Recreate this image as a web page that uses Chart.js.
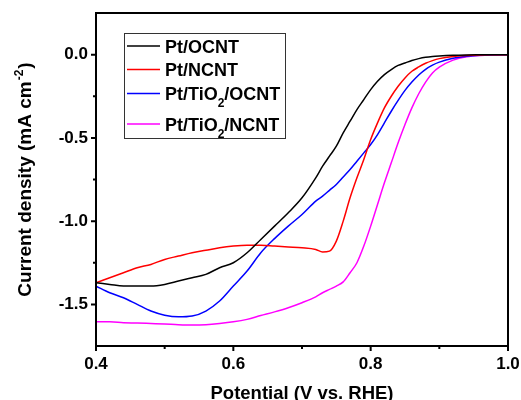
<!DOCTYPE html>
<html lang="en">
<head>
    <meta charset="UTF-8">
    <title>ORR polarization curves</title>
    <script src="https://cdn.jsdelivr.net/npm/chart.js"></script>
    <style>
        body {
            margin: 0;
            padding: 0;
            background: #fff;
        }

        .chart-box {
            width: 521px;
            height: 400px;
            position: relative;
        }
    </style>
</head>
<body>
    <div class="chart-box">
        <canvas id="lsv-chart"></canvas>
    </div>

    <script>
        // Potential (V vs. RHE), shared by all four sweeps
        const potential = [0.40, 0.42, 0.44, 0.46, 0.48, 0.50, 0.52, 0.54, 0.56, 0.58,
            0.60, 0.62, 0.64, 0.66, 0.68, 0.70, 0.72, 0.73, 0.74, 0.75,
            0.76, 0.77, 0.78, 0.79, 0.80, 0.81, 0.82, 0.83, 0.84, 0.85,
            0.86, 0.87, 0.88, 0.89, 0.90, 0.92, 0.94, 0.96, 0.98, 1.00];

        // Current density (mA cm-2)
        const ptOcnt = [-1.37, -1.38, -1.39, -1.39, -1.39, -1.38, -1.36, -1.34, -1.32, -1.28,
            -1.25, -1.19, -1.11, -1.03, -0.95, -0.86, -0.74, -0.67, -0.61, -0.55,
            -0.47, -0.40, -0.33, -0.27, -0.21, -0.16, -0.12, -0.09, -0.065, -0.05,
            -0.035, -0.024, -0.016, -0.011, -0.008, -0.004, -0.002, -0.001, 0, 0];

        const ptNcnt = [-1.37, -1.34, -1.31, -1.28, -1.26, -1.23, -1.21, -1.19, -1.175, -1.16,
            -1.15, -1.145, -1.145, -1.15, -1.155, -1.16, -1.17, -1.185, -1.18, -1.12,
            -1.00, -0.86, -0.74, -0.63, -0.51, -0.41, -0.32, -0.25, -0.19, -0.14,
            -0.10, -0.074, -0.052, -0.036, -0.024, -0.011, -0.005, -0.002, -0.001, 0];

        const ptTiOcnt = [-1.39, -1.43, -1.46, -1.50, -1.54, -1.565, -1.575, -1.57, -1.54, -1.48,
            -1.39, -1.30, -1.19, -1.105, -1.03, -0.96, -0.88, -0.85, -0.815, -0.78,
            -0.735, -0.69, -0.64, -0.59, -0.54, -0.48, -0.41, -0.34, -0.275, -0.215,
            -0.165, -0.122, -0.088, -0.063, -0.045, -0.022, -0.01, -0.004, -0.001, 0];

        const ptTiNcnt = [-1.605, -1.605, -1.61, -1.612, -1.615, -1.618, -1.622, -1.624, -1.622, -1.615,
            -1.605, -1.59, -1.567, -1.545, -1.52, -1.49, -1.455, -1.43, -1.41, -1.39,
            -1.365, -1.31, -1.25, -1.15, -1.03, -0.90, -0.77, -0.65, -0.53, -0.42,
            -0.32, -0.235, -0.165, -0.11, -0.075, -0.033, -0.013, -0.005, -0.002, 0];

        const seriesNames = ['Pt/OCNT', 'Pt/NCNT', 'Pt/TiO2/OCNT', 'Pt/TiO2/NCNT'];
        const seriesColors = ['#000000', '#ff0000', '#0000ff', '#ff00ff'];

        const xTicks = [0.4, 0.6, 0.8, 1.0];
        const xMinorTicks = [0.5, 0.7, 0.9];
        const yTicks = [0.0, -0.5, -1.0, -1.5];
        const yMinorTicks = [-0.25, -0.75, -1.25];

        const FONT = "'Liberation Sans', Arial, sans-serif";

        function toPoints(values) {
            return potential.map((v, i) => ({ x: v, y: values[i] }));
        }

        // Frame, tick marks, axis titles and the legend box
        const decorations = {
            id: 'decorations',
            afterDraw(chart) {
                const ctx = chart.ctx;
                const area = chart.chartArea;
                const xs = chart.scales.x;
                const ys = chart.scales.y;
                ctx.save();

                // frame
                ctx.strokeStyle = '#000';
                ctx.lineWidth = 2;
                ctx.strokeRect(area.left, area.top, area.right - area.left, area.bottom - area.top);

                // tick marks, outward
                ctx.beginPath();
                xTicks.forEach(v => { const p = xs.getPixelForValue(v); ctx.moveTo(p, area.bottom); ctx.lineTo(p, area.bottom + 5); });
                xMinorTicks.forEach(v => { const p = xs.getPixelForValue(v); ctx.moveTo(p, area.bottom); ctx.lineTo(p, area.bottom + 3); });
                yTicks.forEach(v => { const p = ys.getPixelForValue(v); ctx.moveTo(area.left, p); ctx.lineTo(area.left - 5, p); });
                yMinorTicks.forEach(v => { const p = ys.getPixelForValue(v); ctx.moveTo(area.left, p); ctx.lineTo(area.left - 3, p); });
                ctx.stroke();

                ctx.fillStyle = '#000';

                // x title
                ctx.font = 'bold 18.5px ' + FONT;
                ctx.textAlign = 'center';
                ctx.textBaseline = 'alphabetic';
                ctx.fillText('Potential (V vs. RHE)', (area.left + area.right) / 2, 399);

                // y title with superscript
                ctx.save();
                ctx.translate(31, (area.top + area.bottom) / 2 + 1);
                ctx.rotate(-Math.PI / 2);
                ctx.textAlign = 'left';
                const mainFont = 'bold 19px ' + FONT;
                const supFont = 'bold 12px ' + FONT;
                ctx.font = mainFont;
                const partA = 'Current density (mA cm';
                const wA = ctx.measureText(partA).width;
                const wC = ctx.measureText(')').width;
                ctx.font = supFont;
                const wB = ctx.measureText('-2').width;
                let x0 = -(wA + wB + wC) / 2;
                ctx.font = mainFont;
                ctx.fillText(partA, x0, 0);
                ctx.font = supFont;
                ctx.fillText('-2', x0 + wA + 1, -8);
                ctx.font = mainFont;
                ctx.fillText(')', x0 + wA + wB + 2, 0);
                ctx.restore();

                // legend
                ctx.lineWidth = 1;
                ctx.strokeStyle = '#333';
                ctx.strokeRect(124.5, 33.5, 161, 105);
                const rows = [46, 69.5, 93.5, 124];
                ctx.textAlign = 'left';
                seriesNames.forEach((name, i) => {
                    const y = rows[i];
                    ctx.strokeStyle = seriesColors[i];
                    ctx.lineWidth = 1.5;
                    ctx.beginPath();
                    ctx.moveTo(127, y);
                    ctx.lineTo(160, y);
                    ctx.stroke();

                    let tx = 165;
                    const base = y + 6.5;
                    const parts = name.split('2');
                    ctx.font = 'bold 18px ' + FONT;
                    ctx.fillText(parts[0], tx, base);
                    if (parts.length > 1) {
                        tx += ctx.measureText(parts[0]).width;
                        ctx.font = 'bold 12px ' + FONT;
                        ctx.fillText('2', tx, base + 7);
                        tx += ctx.measureText('2').width;
                        ctx.font = 'bold 18px ' + FONT;
                        ctx.fillText(parts[1], tx, base);
                    }
                });

                ctx.restore();
            }
        };

        const seriesValues = [ptOcnt, ptNcnt, ptTiOcnt, ptTiNcnt];

        const ctx = document.getElementById('lsv-chart').getContext('2d');
        const lsvChart = new Chart(ctx, {
            type: 'line',
            data: {
                datasets: seriesValues.map((vals, i) => ({
                    label: seriesNames[i],
                    data: toPoints(vals),
                    borderColor: seriesColors[i],
                    borderWidth: 1.5,
                    pointRadius: 0,
                    fill: false,
                    cubicInterpolationMode: 'monotone'
                }))
            },
            options: {
                responsive: true,
                maintainAspectRatio: false,
                animation: false,
                layout: { padding: { top: 13, right: 13, left: 0, bottom: 0 } },
                plugins: {
                    legend: { display: false },
                    tooltip: { enabled: false }
                },
                scales: {
                    x: {
                        type: 'linear',
                        min: 0.4,
                        max: 1.0,
                        afterBuildTicks: s => { s.ticks = xTicks.map(v => ({ value: v })); },
                        afterFit: s => { s.height = 54; s.paddingLeft = 0; s.paddingRight = 0; },
                        grid: { display: false, drawTicks: false },
                        border: { display: false },
                        ticks: {
                            padding: 8,
                            color: '#000',
                            font: { family: FONT, size: 17, weight: 'bold' },
                            callback: v => v.toFixed(1)
                        }
                    },
                    y: {
                        min: -1.75,
                        max: 0.25,
                        afterBuildTicks: s => { s.ticks = yTicks.map(v => ({ value: v })); },
                        afterFit: s => { s.width = 96; s.paddingTop = 0; s.paddingBottom = 0; },
                        grid: { display: false, drawTicks: false },
                        border: { display: false },
                        ticks: {
                            padding: 8,
                            color: '#000',
                            font: { family: FONT, size: 17, weight: 'bold' },
                            callback: v => v.toFixed(1)
                        }
                    }
                }
            },
            plugins: [decorations]
        });
    </script>
</body>
</html>
